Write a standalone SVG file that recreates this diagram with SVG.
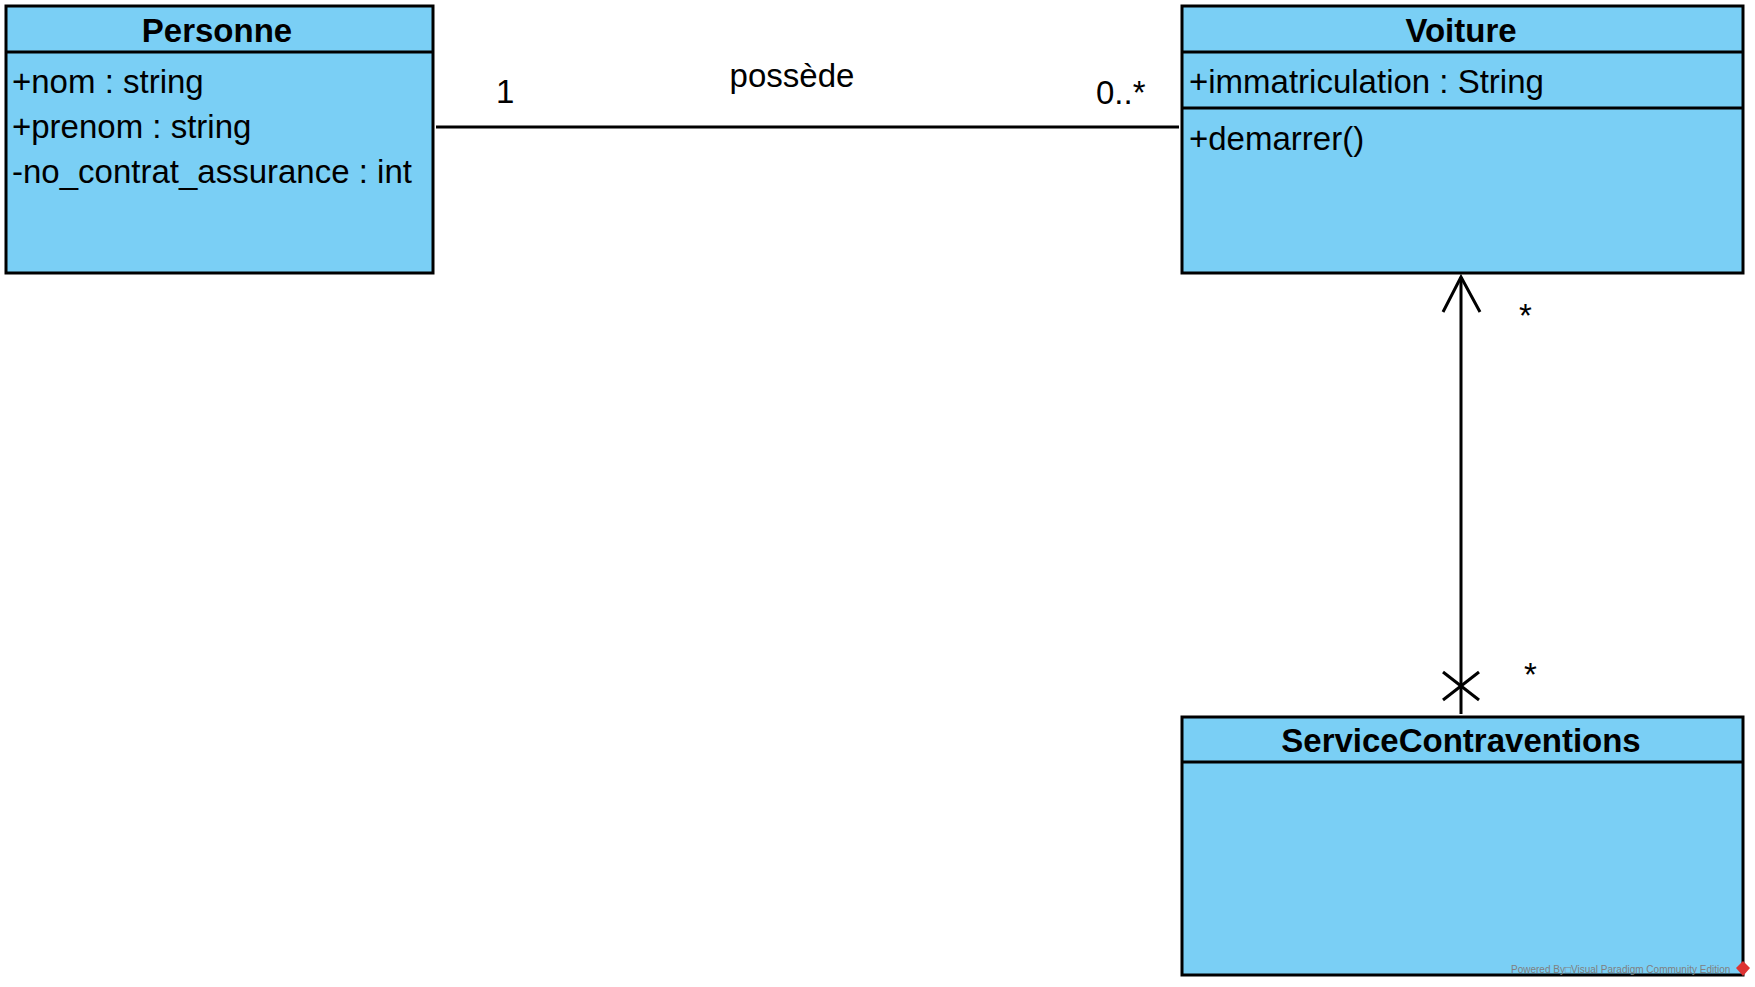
<svg xmlns="http://www.w3.org/2000/svg" width="1755" height="987" viewBox="0 0 1755 987">
<style>
.box{fill:#7ACFF5;stroke:#000;stroke-width:3}
.div{stroke:#000;stroke-width:3}
.title{font-family:"Liberation Sans",Arial,sans-serif;font-size:33px;font-weight:bold;fill:#000;text-anchor:middle}
.attr{font-family:"Liberation Sans",Arial,sans-serif;font-size:33px;fill:#000}
.lbl{font-family:"Liberation Sans",Arial,sans-serif;font-size:33px;fill:#000}
.conn{stroke:#000;stroke-width:3;fill:none}
.wm{font-family:"Liberation Sans",Arial,sans-serif;font-size:10px;fill:#808080}
</style>
<rect width="1755" height="987" fill="#fff"/>
<g id="connectors">
  <line class="conn" x1="436" y1="127" x2="1179" y2="127"/>
  <text class="lbl" x="496" y="103">1</text>
  <text class="lbl" x="792" y="87" text-anchor="middle">possède</text>
  <text class="lbl" x="1096" y="104">0..*</text>
  <line class="conn" x1="1461" y1="277" x2="1461" y2="714"/>
  <polyline class="conn" points="1443,312 1461,277 1480,312"/>
  <line class="conn" x1="1443" y1="672" x2="1479" y2="700"/>
  <line class="conn" x1="1443" y1="700" x2="1479" y2="672"/>
  <text class="lbl" x="1519" y="327">*</text>
  <text class="lbl" x="1524" y="686">*</text>
</g>
<g id="Personne">
  <rect class="box" x="6" y="6" width="427" height="267"/>
  <line class="div" x1="6" y1="52" x2="433" y2="52"/>
  <text class="title" x="217" y="42">Personne</text>
  <text class="attr" x="12" y="93">+nom : string</text>
  <text class="attr" x="12" y="138">+prenom : string</text>
  <text class="attr" x="12" y="183">-no_contrat_assurance : int</text>
</g>
<g id="Voiture">
  <rect class="box" x="1182" y="6" width="561" height="267"/>
  <line class="div" x1="1182" y1="52" x2="1743" y2="52"/>
  <line class="div" x1="1182" y1="108" x2="1743" y2="108"/>
  <text class="title" x="1461" y="42">Voiture</text>
  <text class="attr" x="1189" y="93">+immatriculation : String</text>
  <text class="attr" x="1189" y="150">+demarrer()</text>
</g>
<g id="ServiceContraventions">
  <rect class="box" x="1182" y="717" width="561" height="258"/>
  <line class="div" x1="1182" y1="762" x2="1743" y2="762"/>
  <text class="title" x="1461" y="752">ServiceContraventions</text>
</g>
<g id="watermark">
  <text class="wm" x="1511" y="973">Powered By□Visual Paradigm Community Edition</text>
  <path d="M1743,961 L1750,968 L1743,976 L1736,968 Z" fill="#d33"/>
</g>
</svg>
